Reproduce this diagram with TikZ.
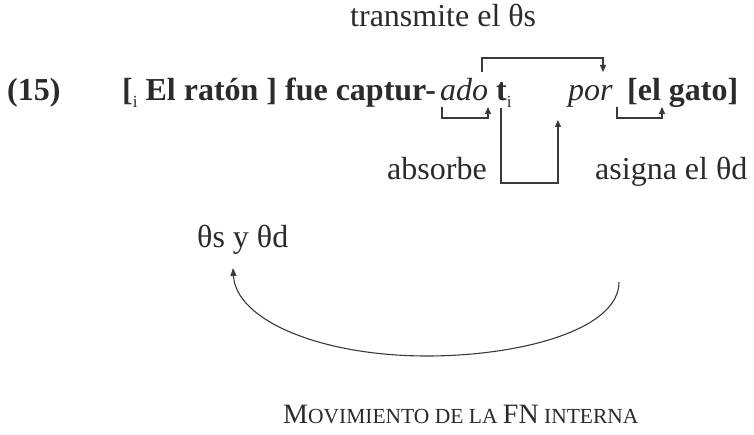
\documentclass[tikz,border=0pt]{standalone}
\usepackage{fontspec}
\setmainfont{Liberation Serif}
\usetikzlibrary{arrows.meta}
\definecolor{ink}{HTML}{2B2B2B}
\definecolor{linecol}{HTML}{3A3A3A}
\newcommand{\subi}{\raisebox{-7pt}{\fontsize{17}{17}\selectfont\mdseries i}}
\newcommand{\myBigCap}[1]{{\fontsize{28}{30}\selectfont #1}}
\newcommand{\mySmallCap}[1]{{\fontsize{21.5}{24}\selectfont #1}}
\begin{document}
\begin{tikzpicture}[x=1pt,y=-1pt,
  txt/.style={inner sep=0pt, anchor=base west, text=ink, font=\fontsize{32}{38}\selectfont},
  boldtxt/.style={txt, font=\fontsize{32}{38}\selectfont\bfseries},
  italtxt/.style={txt, font=\fontsize{32}{38}\selectfont\itshape},
  arr/.style={draw=linecol, line width=1.3pt, -{Triangle[length=7pt,width=6pt]}},
  curvearr/.style={draw=linecol, line width=1.1pt, -{Triangle[length=8pt,width=6pt]}},
  ]
\useasboundingbox[fill=white] (0,0) rectangle (754,435);

% texts
\node[txt] (trans) at (350,27) {transmite el θs};
\node[boldtxt] (n15) at (7,101) {(15)};
\node[boldtxt] (np) at (122,101) {[\subi\ El ratón ] fue captur-};
\node[italtxt] (ado) at (440,101) {ado};
\node[boldtxt] (t) at (496,101) {t\subi};
\node[italtxt] (por) at (568,101) {por};
\node[boldtxt] (el) at (627,101) {[el gato]};
\node[txt] (absorbe) at (387,180) {absorbe};
\node[txt] (asigna) at (595,180) {asigna el θd};
\node[txt] (thetas) at (197,248) {θs y θd};
\node[txt] (movim) at (283,423) {\myBigCap{M}\mySmallCap{OVIMIENTO DE LA }\myBigCap{FN}\mySmallCap{ INTERNA}};

% connector points
\coordinate (tb1) at (482,72);
\coordinate (tb2) at (603,72);
\coordinate (ha1) at (442,107);
\coordinate (ha2) at (488,107);
\coordinate (bx1) at (501,108);
\coordinate (bx2) at (558,120);
\coordinate (hp1) at (617,107);
\coordinate (hp2) at (662,107);
\coordinate (cv1) at (619,282);
\coordinate (cv2) at (233,268);

% connectors
\draw[arr] (tb1) -- ++(0,-14) -| (tb2);
\draw[arr] (ha1) -- ++(0,11) -| (ha2);
\draw[arr] (bx1) -- ++(0,75) -| (bx2);
\draw[arr] (hp1) -- ++(0,11) -| (hp2);
\draw[curvearr] (cv1) .. controls (619,330) and (520,356) .. (427,356)
                      .. controls (320,356) and (236,320) .. (cv2);
\end{tikzpicture}
\end{document}
